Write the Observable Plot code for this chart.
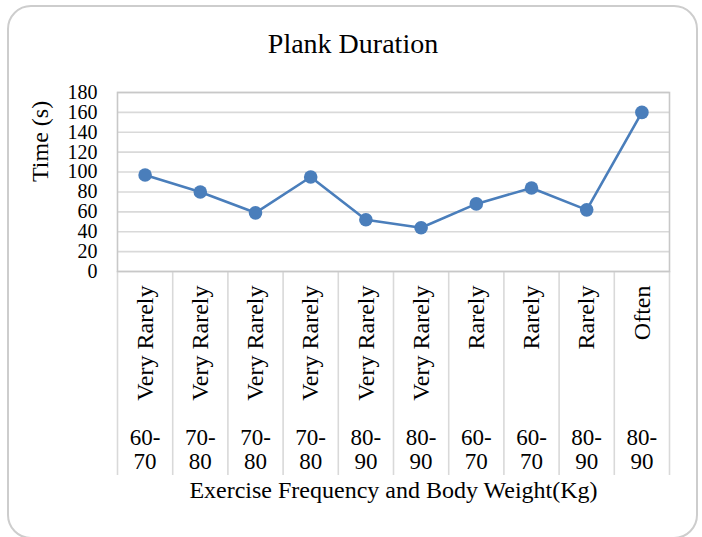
<!DOCTYPE html>
<html>
<head>
<meta charset="utf-8">
<script src="https://cdn.jsdelivr.net/npm/d3@7"></script>
<script src="https://cdn.jsdelivr.net/npm/@observablehq/plot@0.6"></script>
<style>
  html, body { margin: 0; padding: 0; background: #fff; }
  #wrap { position: relative; width: 702px; height: 537px; overflow: hidden; font-family: "Liberation Serif", "Times New Roman", serif; }
  #border { position: absolute; left: 7px; top: 5px; width: 691px; height: 534px; box-sizing: border-box; border: 2px solid #cdcdcd; border-radius: 24px; }
  #title { position: absolute; left: 2px; top: 30px; width: 702px; text-align: center; font-size: 28px; line-height: 28px; color: #000; }
  #chart { position: absolute; left: 0; top: 0; }
</style>
</head>
<body>
<div id="wrap">
  <div id="border"></div>
  <div id="title">Plank Duration</div>
  <div id="chart"></div>
</div>
<script>
const frequency = ["Very Rarely", "Very Rarely", "Very Rarely", "Very Rarely", "Very Rarely", "Very Rarely", "Rarely", "Rarely", "Rarely", "Often"];
const weight = ["60-70", "70-80", "70-80", "70-80", "80-90", "80-90", "60-70", "60-70", "80-90", "80-90"];
const duration = [97, 80, 59, 95, 52, 44, 68, 84, 62, 160];
const yTicks = [0, 20, 40, 60, 80, 100, 120, 140, 160, 180];
const yLabel = "Time (s)";
const xLabel = "Exercise Frequency and Body Weight(Kg)";

const rows = frequency.map((f, i) => ({pos: i + 0.5, freq: f, weight: weight[i].replace("-", "-\n"), value: duration[i]}));
const edges = d3.range(frequency.length + 1);

const W = 702, H = 537;
const mL = 117, mR = 33, mT = 92, mB = 266;
const frameH = H - mT - mB;

const chart = Plot.plot({
  width: W,
  height: H,
  marginLeft: mL,
  marginRight: mR,
  marginTop: mT,
  marginBottom: mB,
  style: {fontFamily: "'Liberation Serif', 'Times New Roman', serif", fontSize: "20px", color: "#000", background: "transparent", overflow: "visible"},
  x: {type: "linear", domain: [0, frequency.length], axis: null},
  y: {domain: [0, 180], ticks: yTicks, tickSize: 0, tickPadding: 20, label: null, tickFormat: d => String(d)},
  marks: [
    Plot.ruleY(yTicks, {y: d => d, stroke: "#d9d9d9", strokeWidth: 1.6}),
    Plot.ruleX(edges, {x: d => d, stroke: "#d9d9d9", strokeWidth: 1.6, insetTop: frameH, insetBottom: -204}),
    Plot.frame({stroke: "#c8c8c8", strokeWidth: 1.6}),
    Plot.line(rows, {x: "pos", y: "value", stroke: "#4a7ebb", strokeWidth: 2.6}),
    Plot.dot(rows, {x: "pos", y: "value", r: 6.8, fill: "#4a7ebb", stroke: "none"}),
    Plot.text(rows, {x: "pos", text: "freq", frameAnchor: "bottom", dy: 14, rotate: -90, textAnchor: "end", lineAnchor: "middle", fontSize: 24, fill: "#000"}),
    Plot.text(rows, {x: "pos", text: "weight", frameAnchor: "bottom", dy: 178, lineAnchor: "middle", lineHeight: 1.04, fontSize: 23, fill: "#000"}),
    Plot.text([yLabel], {text: d => d, frameAnchor: "left", dx: -77, rotate: -90, fontSize: 24, fill: "#000"}),
    Plot.text([xLabel], {text: d => d, frameAnchor: "bottom", dy: 226, fontSize: 24, fill: "#000"})
  ]
});
document.getElementById("chart").appendChild(chart);
</script>
</body>
</html>
